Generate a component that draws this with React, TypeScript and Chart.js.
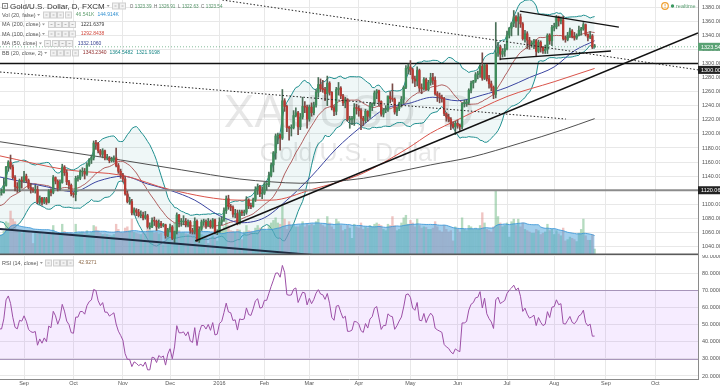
import React, { useEffect, useRef } from "react";
import { Chart, registerables } from "chart.js";
Chart.register(...registerables);

const FONT = '"Liberation Sans", Arial, Helvetica, sans-serif';

// ---- daily candles [open, high, low, close]; first bar = index -11 (Aug 17 2015), Sep 1 2015 = index 0
const aug15 = [[1113,1120,1110,1117],[1117,1122,1113,1117],[1117,1137,1116,1127],[1127,1154,1126,1153],[1153,1162,1147,1160],[1160,1170,1150,1153],[1153,1156,1136,1138],[1138,1141,1119,1125],[1125,1131,1117,1123],[1123,1136,1118,1134],[1134,1139,1123,1133]];
const sep15 = [[1133,1147,1131,1140],[1140,1143,1131,1134],[1134,1136,1122,1124],[1124,1130,1116,1121],[1121,1124,1117,1120],[1120,1127,1116,1121],[1121,1126,1101,1103],[1103,1112,1100,1109],[1109,1110,1099,1103],[1103,1110,1101,1108],[1108,1110,1100,1103],[1103,1121,1102,1119],[1119,1122,1112,1117],[1117,1141,1115,1138],[1138,1139,1129,1133],[1133,1135,1119,1123],[1123,1135,1120,1131],[1131,1157,1130,1153],[1153,1155,1141,1145],[1145,1149,1128,1132],[1132,1134,1122,1127],[1127,1129,1112,1115]];
const oct15 = [[1115,1117,1110,1114],[1114,1140,1105,1137],[1137,1141,1133,1137],[1137,1149,1135,1146],[1146,1152,1140,1146],[1146,1151,1136,1143],[1143,1159,1141,1156],[1156,1165,1154,1163],[1163,1170,1158,1166],[1166,1190,1163,1187],[1187,1191,1178,1186],[1186,1188,1173,1176],[1176,1178,1168,1171],[1171,1179,1166,1176],[1176,1177,1163,1166],[1166,1171,1163,1166],[1166,1168,1159,1162],[1162,1167,1160,1164],[1164,1169,1160,1166],[1166,1180,1153,1155],[1155,1158,1144,1147],[1147,1150,1137,1142]];
const nov15 = [[1142,1144,1132,1136],[1136,1139,1113,1115],[1115,1119,1102,1104],[1104,1110,1100,1104],[1104,1107,1085,1088],[1088,1095,1085,1092],[1092,1094,1084,1089],[1089,1093,1082,1084],[1084,1091,1081,1085],[1085,1089,1078,1081],[1081,1090,1079,1084],[1084,1086,1066,1068],[1068,1074,1065,1068],[1068,1081,1067,1077],[1077,1082,1070,1076],[1076,1078,1063,1068],[1068,1078,1066,1073],[1073,1076,1067,1070],[1070,1073,1068,1071],[1071,1072,1052,1056],[1056,1066,1054,1064]];
const dec15 = [[1064,1072,1061,1068],[1068,1070,1050,1052],[1052,1062,1046,1062],[1062,1088,1058,1085],[1085,1086,1068,1075],[1075,1080,1069,1075],[1075,1084,1071,1076],[1076,1080,1068,1071],[1071,1078,1068,1075],[1075,1077,1059,1063],[1063,1066,1058,1061],[1061,1081,1058,1076],[1076,1078,1047,1049],[1049,1068,1046,1065],[1065,1078,1063,1075],[1075,1079,1070,1075],[1075,1078,1066,1070],[1070,1080,1069,1076],[1076,1078,1066,1068],[1068,1080,1066,1078],[1078,1079,1058,1060],[1060,1064,1057,1061]];
const jan16 = [[1061,1081,1060,1075],[1075,1082,1071,1078],[1078,1095,1076,1091],[1091,1112,1087,1108],[1108,1113,1093,1097],[1097,1100,1091,1096],[1096,1098,1082,1086],[1086,1093,1081,1087],[1087,1092,1071,1073],[1073,1092,1072,1089],[1089,1092,1084,1088],[1088,1092,1084,1089],[1089,1111,1086,1106],[1106,1108,1094,1098],[1098,1102,1094,1097],[1097,1109,1096,1107],[1107,1125,1104,1121],[1121,1129,1114,1125],[1125,1127,1111,1115],[1115,1125,1108,1116]];
const feb16 = [[1116,1131,1114,1128],[1128,1131,1120,1128],[1128,1146,1125,1141],[1141,1159,1139,1156],[1156,1175,1146,1173],[1173,1200,1164,1197],[1197,1201,1186,1198],[1198,1200,1177,1194],[1194,1263,1192,1247],[1247,1250,1232,1239],[1239,1241,1203,1209],[1209,1211,1191,1208],[1208,1213,1197,1209],[1209,1233,1207,1226],[1226,1237,1224,1230],[1230,1232,1199,1210],[1210,1229,1206,1224],[1224,1252,1221,1239],[1239,1246,1230,1238],[1238,1241,1208,1221],[1221,1241,1218,1238]];
const mar16 = [[1238,1244,1225,1230],[1230,1245,1227,1241],[1241,1263,1238,1259],[1259,1280,1252,1270],[1270,1278,1260,1264],[1264,1276,1259,1263],[1263,1266,1247,1257],[1257,1282,1240,1272],[1272,1274,1255,1259],[1259,1260,1234,1237],[1237,1240,1226,1232],[1232,1266,1227,1263],[1263,1273,1255,1265],[1265,1267,1250,1254],[1254,1256,1240,1244],[1244,1252,1237,1248],[1248,1250,1218,1220],[1220,1225,1208,1220],[1220,1225,1213,1222],[1222,1243,1212,1237],[1237,1242,1228,1236],[1236,1240,1225,1233]];
const apr16 = [[1233,1236,1206,1222],[1222,1225,1212,1219],[1219,1235,1216,1232],[1232,1233,1218,1225],[1225,1244,1222,1239],[1239,1244,1233,1243],[1243,1261,1240,1258],[1258,1263,1250,1261],[1261,1262,1240,1246],[1246,1247,1225,1228],[1228,1236,1224,1234],[1234,1240,1230,1234],[1234,1254,1232,1253],[1253,1260,1244,1250],[1250,1271,1246,1249],[1249,1251,1228,1231],[1231,1238,1226,1236],[1236,1245,1233,1243],[1243,1253,1238,1249],[1249,1268,1243,1266],[1266,1297,1264,1293]];
const may16 = [[1293,1299,1285,1295],[1295,1304,1284,1291],[1291,1293,1272,1278],[1278,1282,1267,1275],[1275,1295,1268,1290],[1290,1292,1260,1265],[1265,1271,1257,1264],[1264,1280,1262,1277],[1277,1279,1262,1263],[1263,1276,1261,1273],[1273,1286,1269,1280],[1280,1286,1270,1276],[1276,1281,1255,1257],[1257,1260,1246,1254],[1254,1258,1244,1252],[1252,1255,1245,1250],[1250,1252,1226,1229],[1229,1230,1218,1224],[1224,1228,1217,1221],[1221,1223,1206,1214],[1214,1217,1208,1210],[1210,1218,1199,1215]];
const jun16 = [[1215,1220,1208,1212],[1212,1214,1205,1210],[1210,1244,1207,1243],[1243,1248,1238,1243],[1243,1248,1239,1245],[1245,1264,1242,1262],[1262,1275,1258,1272],[1272,1276,1265,1275],[1275,1287,1273,1284],[1284,1289,1278,1285],[1285,1298,1280,1296],[1296,1315,1276,1279],[1279,1299,1277,1298],[1298,1299,1275,1278],[1278,1283,1265,1271],[1271,1275,1261,1266],[1266,1268,1250,1256],[1256,1358,1251,1315],[1315,1330,1310,1323],[1323,1326,1305,1313],[1313,1321,1309,1317],[1317,1327,1310,1321]];
const jul16 = [[1321,1346,1319,1340],[1340,1351,1336,1350],[1350,1358,1339,1357],[1357,1375,1352,1366],[1366,1368,1351,1360],[1360,1372,1340,1366],[1366,1370,1351,1356],[1356,1358,1333,1335],[1335,1347,1330,1342],[1342,1345,1321,1333],[1333,1337,1320,1327],[1327,1332,1323,1329],[1329,1334,1321,1332],[1332,1334,1311,1317],[1317,1333,1315,1330],[1330,1332,1316,1323],[1323,1324,1314,1318],[1318,1326,1314,1320],[1320,1342,1314,1340],[1340,1342,1327,1332],[1332,1354,1325,1351]];
const aug16 = [[1351,1357,1346,1352],[1352,1368,1349,1366],[1366,1367,1353,1360],[1360,1366,1356,1362],[1362,1367,1333,1335],[1335,1339,1330,1334],[1334,1344,1332,1340],[1340,1350,1337,1346],[1346,1348,1336,1338],[1338,1344,1333,1336],[1336,1342,1334,1340],[1340,1353,1339,1347],[1347,1351,1340,1349],[1349,1358,1347,1355],[1355,1356,1339,1341],[1341,1342,1332,1337],[1337,1345,1335,1339],[1339,1341,1321,1323.39],[1323.39,1326.91,1322.63,1323.54]];

// ---- daily volume (thousands)
const volAug15 = [150,160,185,260,250,343,280,260,200,180,170];
const volSep15 = [190,180,185,170,90,170,180,175,165,160,165,175,170,230,170,160,165,240,185,170,165,175];
const volOct15 = [165,240,170,175,180,170,190,165,175,230,220,190,170,160,165,160,155,150,160,240,200,175];
const volNov15 = [170,210,220,190,280,175,170,165,160,170,165,200,190,185,170,175,165,170,80,190,165];
const volDec15 = [170,180,250,270,190,170,175,165,160,170,165,230,260,200,160,150,150,90,130,150,140,110];
const volJan16 = [180,190,220,280,230,190,185,180,200,195,120,180,230,190,185,175,210,230,210,205];
const volFeb16 = [200,190,230,250,270,290,250,240,390,280,200,260,230,240,220,220,230,260,220,240,230];
const volMar16 = [240,230,260,280,240,230,220,300,250,220,200,280,260,230,190,200,230,210,130,240,220,210];
const volApr16 = [250,200,220,210,230,220,240,250,240,230,200,190,240,230,300,230,190,200,250,290,310];
const volMay16 = [240,270,250,220,280,230,210,220,215,200,200,210,260,220,190,180,230,200,180,190,110,220];
const volJun16 = [200,180,290,200,190,230,220,200,210,200,230,330,250,200,190,180,220,500,300,250,220,230];
const volJul16 = [250,140,260,280,230,280,220,250,200,190,180,170,170,200,190,160,170,180,240,190,200];
const volAug16 = [160,190,165,150,210,110,120,140,130,120,105,170,200,280,150,115,115,160,46.541];

// closes before the first visible bar (needed by BB(20) and RSI(14))
const warmupCloses = [1131,1106,1103,1091,1093,1085,1097,1096,1095,1088,1095,1086,1086,1085,1090,1094,1104,1108,1123,1115,1113];
const FIRST_INDEX = -11;

// ---- moving averages (bar index -> price)
const ma200Idx = [-11,16,43,70,96,110,123,136,151,166,181,199,221,240,254];
const ma200Val = [1189,1176,1163,1149,1136,1132,1130,1132,1137,1146,1156,1167,1187,1206,1221.64];
const ma100Idx = [-11,19,44,65,96,110,128,150,171,181,193,215,236,254];
const ma100Val = [1169,1149,1141,1121,1106,1106,1121,1143,1180,1201,1220,1253,1274,1292.84];
const ma50Idx = [-11,10,22,33,44,55,65,76,87,97,107,117,128,139,150,161,171,182,193,204,215,225,236,245,254];
const ma50Val = [1139,1125,1118,1133,1140,1129,1120,1106,1084,1074,1081,1106,1140,1179,1210,1236,1243,1252,1247,1255,1266,1280,1295,1318,1332.11];

// ---- drawings (bar index, price)
const trendUp = [[76.2,1048.1],[300,1343.1]];
const trendDown = [[-10.7,1065.1],[130,1027.9]];
const dottedA = [[-10.7,1287.8],[241.2,1221.1]];
const dottedB = [[88.3,1389.9],[300.5,1290.6]];
const triUpper = [[220.7,1374.3],[264.8,1351.6]];
const triLower = [[211.8,1306.2],[261.3,1317.6]];
const hLevels = [1300, 1120.06];
const lastPrice = 1323.54;

// ---- axes
const monthTickIdx = [0,22,44,65,87,107,127,149,172,193,215,236,259,281];
const monthLabels = ["Sep","Oct","Nov","Dec","2016","Feb","Mar","Apr","May","Jun","Jul","Aug","Sep","Oct"];
const priceTicks = [1040,1060,1080,1100,1120,1140,1160,1180,1200,1220,1240,1260,1280,1300,1320,1340,1360,1380];
const rsiTicks = [20,30,40,50,60,70,80,90];
const rsiBand = [30, 70];
const X_MIN = -10.7, X_MAX = 300.02;
const Y_MIN = 1028.2, Y_MAX = 1389.93;
const RSI_MIN = 18.25, RSI_MAX = 90.58;
const VOL_MAX = 1990;

// ---- legend texts
const headerTitle = "Gold/U.S. Dollar, D, FXCM";
const ohlcText = [["O","1323.39"],["H","1326.91"],["L","1322.63"],["C","1323.54"]];
const legendRows = [
  { name: "Vol (20, false)", values: [["46.541K", "#5f9e6e"], ["144.914K", "#2f8fd0"]] },
  { name: "MA (200, close)", values: [["1221.6379", "#3a3a3a"]] },
  { name: "MA (100, close)", values: [["1292.8438", "#d24a3f"]] },
  { name: "MA (50, close)", values: [["1332.1060", "#34408f"]] },
  { name: "BB (20, close, 2)", values: [["1343.2340", "#8f2a2a"], ["1364.5482", "#168585"], ["1321.9198", "#168585"]] },
];
const rsiLegend = { name: "RSI (14, close)", value: "42.9271" };
const watermarkSymbol = "XAUUSD, D";
const watermarkDesc = "Gold/U.S. Dollar";

const GRID = "#e8e8e8";

const candles: number[][] = [...aug15, ...sep15, ...oct15, ...nov15, ...dec15, ...jan16, ...feb16, ...mar16, ...apr16, ...may16, ...jun16, ...jul16, ...aug16];
const volumes: number[] = [...volAug15, ...volSep15, ...volOct15, ...volNov15, ...volDec15, ...volJan16, ...volFeb16, ...volMar16, ...volApr16, ...volMay16, ...volJun16, ...volJul16, ...volAug16];

function buildSeries() {
  const xs = candles.map((_, k) => FIRST_INDEX + k);
  const up = candles.map((c) => c[3] >= c[0]);
  const bodies = candles.map((c, k) => ({ x: xs[k], y: [c[0], c[3]] }));
  const wicks = candles.map((c, k) => ({ x: xs[k], y: [c[2], c[1]] }));
  const vols = volumes.map((v, k) => ({ x: xs[k], y: v }));
  const volMA = volumes.map((_, k) => {
    const s = Math.max(0, k - 19);
    const w = volumes.slice(s, k + 1);
    return { x: xs[k], y: w.reduce((a, b) => a + b, 0) / w.length };
  });
  const closesAll = warmupCloses.concat(candles.map((c) => c[3]));
  const W = warmupCloses.length;
  const bbU: any[] = [], bbL: any[] = [], bbM: any[] = [];
  candles.forEach((_, k) => {
    const g = W + k;
    const win = closesAll.slice(g - 19, g + 1);
    const m = win.reduce((a, b) => a + b, 0) / win.length;
    const sd = Math.sqrt(win.reduce((a, b) => a + (b - m) * (b - m), 0) / win.length);
    bbU.push({ x: xs[k], y: m + 2 * sd });
    bbL.push({ x: xs[k], y: m - 2 * sd });
    bbM.push({ x: xs[k], y: m });
  });
  const rsi: any[] = [];
  let ag = 0, al = 0;
  for (let i = 1; i < closesAll.length; i++) {
    const d = closesAll[i] - closesAll[i - 1];
    const g = Math.max(d, 0), l = Math.max(-d, 0);
    if (i <= 14) { ag += g / 14; al += l / 14; }
    else { ag = (ag * 13 + g) / 14; al = (al * 13 + l) / 14; }
    if (i >= W) rsi.push({ x: FIRST_INDEX + (i - W), y: al === 0 ? 100 : 100 - 100 / (1 + ag / al) });
  }
  return { xs, up, bodies, wicks, vols, volMA, bbU, bbL, bbM, rsi };
}

const pts = (idx: number[], val: number[]) => idx.map((x, i) => ({ x, y: val[i] }));
const seg = (p: number[][]) => p.map((q) => ({ x: q[0], y: q[1] }));

function lineDs(data: any[], color: string, width: number, order: number, extra: any = {}) {
  return { type: "line", data, borderColor: color, borderWidth: width, pointRadius: 0, fill: false, tension: 0, order, ...extra };
}

function xScale(showLabels: boolean) {
  return {
    type: "linear", min: X_MIN, max: X_MAX, offset: false,
    afterBuildTicks: (s: any) => { s.ticks = monthTickIdx.map((v) => ({ value: v })); },
    grid: { color: GRID, drawTicks: false, offset: false, lineWidth: 1 },
    border: { display: showLabels, color: "#8a8a8a" },
    ticks: {
      display: showLabels, autoSkip: false, maxRotation: 0, padding: 1.5, color: "#555",
      font: { size: 5.5, family: FONT }, callback: (_v: any, i: number) => monthLabels[i],
    },
    afterFit: (s: any) => { s.height = showLabels ? 8 : 0; s.paddingLeft = 0; s.paddingRight = 0; },
  };
}

function yAfterFit(s: any) { s.width = 22; s.paddingTop = 0; s.paddingBottom = 0; }

function drawBoxes(ctx: CanvasRenderingContext2D, x: number, y: number, n: number) {
  for (let i = 0; i < n; i++) {
    const bx = Math.round(x + i * 7.3) + 0.5;
    ctx.fillStyle = "#f2f2f2";
    ctx.fillRect(bx, y - 3, 6, 6);
    ctx.strokeStyle = "#cfcfcf";
    ctx.lineWidth = 1;
    ctx.strokeRect(bx, y - 3, 6, 6);
    ctx.fillStyle = "#b8b8b8";
    ctx.fillRect(bx + 2, y - 0.5, 2, 1);
  }
}
function drawCaret(ctx: CanvasRenderingContext2D, x: number, y: number) {
  ctx.fillStyle = "#999";
  ctx.beginPath();
  ctx.moveTo(x, y - 1); ctx.lineTo(x + 3, y - 1); ctx.lineTo(x + 1.5, y + 1); ctx.closePath(); ctx.fill();
}
function labelBox(ctx: CanvasRenderingContext2D, y: number, text: string, bg: string) {
  ctx.fillStyle = bg;
  ctx.fillRect(698, y - 4, 22, 8);
  ctx.fillStyle = "#fff";
  ctx.font = `5.5px ${FONT}`;
  ctx.textAlign = "left";
  ctx.textBaseline = "middle";
  ctx.fillText(text, 701, y + 0.3);
}
// draws a legend row: name, caret, icon boxes, then values one after another
function legendRow(ctx: CanvasRenderingContext2D, y: number, name: string, values: string[][]) {
  ctx.textAlign = "left"; ctx.textBaseline = "middle";
  ctx.font = `5.5px ${FONT}`;
  ctx.fillStyle = "#555";
  ctx.fillText(name, 2, y);
  let x = 2 + ctx.measureText(name).width + 1.5;
  drawCaret(ctx, x, y);
  x += 5.5;
  drawBoxes(ctx, x, y, 4);
  x += 4 * 7.3 + 4;
  ctx.font = `5px ${FONT}`;
  values.forEach((v) => {
    ctx.fillStyle = v[1];
    ctx.fillText(v[0], x, y);
    x += ctx.measureText(v[0]).width + 3;
  });
}

export default function App() {
  const mainRef = useRef<HTMLCanvasElement>(null);
  const rsiRef = useRef<HTMLCanvasElement>(null);

  useEffect(() => {
    document.body.style.margin = "0";
    const S = buildSeries();
    const upCol = "#3f8c5b", dnCol = "#b83a33";

    const watermark = {
      id: "watermark",
      beforeDatasetsDraw(chart: any) {
        const ctx = chart.ctx;
        ctx.save();
        ctx.fillStyle = "rgba(110,110,110,0.17)";
        ctx.textAlign = "center";
        ctx.textBaseline = "alphabetic";
        ctx.font = `46px ${FONT}`;
        ctx.fillText(watermarkSymbol, 349, 127);
        ctx.font = `25px ${FONT}`;
        ctx.fillText(watermarkDesc, 350, 161);
        ctx.restore();
      },
    };

    const overlay = {
      id: "overlay",
      afterDraw(chart: any) {
        const ctx: CanvasRenderingContext2D = chart.ctx;
        const y = chart.scales.y;
        ctx.save();
        // pane separator
        ctx.strokeStyle = "#5a5a5a";
        ctx.lineWidth = 1.5;
        ctx.beginPath(); ctx.moveTo(0, 254.3); ctx.lineTo(698, 254.3); ctx.stroke();
        // header
        ctx.strokeStyle = "#888"; ctx.lineWidth = 1;
        ctx.strokeRect(2.5, 3.5, 5, 5);
        ctx.beginPath(); ctx.moveTo(4, 6); ctx.lineTo(6, 6); ctx.stroke();
        ctx.textAlign = "left"; ctx.textBaseline = "middle";
        ctx.fillStyle = "#333";
        ctx.font = `8px ${FONT}`;
        ctx.fillText(headerTitle, 10, 6.5);
        let hx = 10 + ctx.measureText(headerTitle).width + 2;
        drawCaret(ctx, hx, 6);
        hx += 5.5;
        drawBoxes(ctx, hx, 6, 2);
        hx += 2 * 7.3 + 3;
        ctx.font = `4.6px ${FONT}`;
        ohlcText.forEach((p) => {
          ctx.fillStyle = "#666"; ctx.fillText(p[0], hx, 6.5);
          hx += ctx.measureText(p[0]).width + 1.5;
          ctx.fillStyle = "#4f8f62"; ctx.fillText(p[1], hx, 6.5);
          hx += ctx.measureText(p[1]).width + 2.5;
        });
        // indicator rows
        const rowY = [15, 24.5, 34, 43.5, 53];
        legendRows.forEach((r, i) => legendRow(ctx, rowY[i], r.name, r.values as string[][]));
        // realtime
        ctx.strokeStyle = "#f0a030"; ctx.lineWidth = 1.2;
        ctx.beginPath(); ctx.arc(665, 6, 3.3, 0, Math.PI * 2); ctx.stroke();
        ctx.fillStyle = "#f0a030"; ctx.fillRect(664.6, 4, 0.9, 2.4); ctx.fillRect(664.6, 7.2, 0.9, 0.9);
        ctx.fillStyle = "#3c9a62";
        ctx.beginPath(); ctx.arc(672.5, 6, 1.7, 0, Math.PI * 2); ctx.fill();
        ctx.fillStyle = "#5a9e72";
        ctx.font = `5.5px ${FONT}`;
        ctx.fillText("realtime", 676, 6.5);
        // price labels
        labelBox(ctx, y.getPixelForValue(lastPrice), lastPrice.toFixed(2), "#5aa274");
        labelBox(ctx, y.getPixelForValue(hLevels[0]) + 6.5, hLevels[0].toFixed(2), "#222");
        labelBox(ctx, y.getPixelForValue(hLevels[1]), hLevels[1].toFixed(2), "#222");
        ctx.restore();
      },
    };

    const fullX = [X_MIN, X_MAX];
    const main = new Chart(mainRef.current as HTMLCanvasElement, {
      type: "line",
      data: {
        datasets: [
          lineDs(S.bbU, "#1f8f8f", 1, 100, { fill: { target: "+1" }, backgroundColor: "rgba(25,140,140,0.07)" }),
          lineDs(S.bbL, "#1f8f8f", 1, 99),
          {
            type: "bar", data: S.vols, yAxisID: "yVol", grouped: false, barThickness: 1.7, order: 90,
            backgroundColor: S.up.map((u) => (u ? "rgba(120,190,140,0.55)" : "rgba(225,140,135,0.5)")),
          },
          lineDs(S.volMA, "rgba(60,150,215,0.85)", 1, 85, { yAxisID: "yVol", fill: "origin", backgroundColor: "rgba(70,160,220,0.5)" }),
          lineDs(pts(ma200Idx, ma200Val), "#505050", 1, 70, { cubicInterpolationMode: "monotone" }),
          lineDs(pts(ma100Idx, ma100Val), "#d9534a", 1, 70, { cubicInterpolationMode: "monotone" }),
          lineDs(pts(ma50Idx, ma50Val), "#3a44a0", 1, 70, { cubicInterpolationMode: "monotone" }),
          lineDs(S.bbM, "#a03a3a", 0.8, 70),
          lineDs([{ x: fullX[0], y: hLevels[0] }, { x: fullX[1], y: hLevels[0] }], "#111", 1.5, 60),
          lineDs([{ x: fullX[0], y: hLevels[1] }, { x: fullX[1], y: hLevels[1] }], "#8c8c8c", 2, 60),
          lineDs([{ x: fullX[0], y: lastPrice }, { x: fullX[1], y: lastPrice }], "rgba(80,160,110,0.7)", 1, 60, { borderDash: [1, 2] }),
          {
            type: "bar", data: S.wicks, grouped: false, barThickness: 1, order: 50,
            backgroundColor: S.up.map((u) => (u ? "#4a6f58" : "#7a4b47")),
          },
          {
            type: "bar", data: S.bodies, grouped: false, barThickness: 1.7, minBarLength: 1, order: 40,
            backgroundColor: S.up.map((u) => (u ? upCol : dnCol)),
          },
          lineDs(seg(trendUp), "#111", 1.5, 30),
          lineDs(seg(trendDown), "#1e2c42", 2, 30),
          lineDs(seg(dottedA), "#222", 1, 30, { borderDash: [1.5, 2] }),
          lineDs(seg(dottedB), "#222", 1, 30, { borderDash: [1.5, 2] }),
          lineDs(seg(triUpper), "#111", 1.3, 30),
          lineDs(seg(triLower), "#111", 1.3, 30),
        ] as any,
      },
      options: {
        responsive: false, animation: false, devicePixelRatio: 1, events: [],
        layout: { padding: 0 },
        plugins: { legend: { display: false }, tooltip: { enabled: false }, filler: { propagate: false } },
        scales: {
          x: xScale(false) as any,
          y: {
            type: "linear", position: "right", min: Y_MIN, max: Y_MAX,
            afterBuildTicks: (s: any) => { s.ticks = priceTicks.map((v) => ({ value: v })); },
            grid: { color: GRID, drawTicks: false },
            border: { display: true, color: "#8a8a8a" },
            ticks: { padding: 4, color: "#555", autoSkip: false, font: { size: 5.5, family: FONT }, callback: (v: any) => Number(v).toFixed(2) },
            afterFit: yAfterFit,
          } as any,
          yVol: { type: "linear", display: false, min: 0, max: VOL_MAX } as any,
        },
      },
      plugins: [watermark, overlay],
    });

    const rsiPlugin = {
      id: "rsiBand",
      beforeDatasetsDraw(chart: any) {
        const ctx = chart.ctx, a = chart.chartArea, y = chart.scales.y;
        const y70 = y.getPixelForValue(rsiBand[1]), y30 = y.getPixelForValue(rsiBand[0]);
        ctx.save();
        ctx.fillStyle = "rgba(153,40,255,0.09)";
        ctx.fillRect(a.left, y70, a.right - a.left, y30 - y70);
        ctx.strokeStyle = "rgba(160,140,180,0.9)";
        ctx.lineWidth = 1;
        [y70, y30].forEach((py: number) => {
          ctx.beginPath(); ctx.moveTo(a.left, Math.round(py) + 0.5); ctx.lineTo(a.right, Math.round(py) + 0.5); ctx.stroke();
        });
        ctx.restore();
      },
      afterDraw(chart: any) {
        const ctx: CanvasRenderingContext2D = chart.ctx;
        ctx.save();
        legendRow(ctx, 8, rsiLegend.name, [[rsiLegend.value, "#8d6a4a"]]);
        ctx.restore();
      },
    };

    const rsiChart = new Chart(rsiRef.current as HTMLCanvasElement, {
      type: "line",
      data: { datasets: [lineDs(S.rsi, "#9c4fa6", 1, 10)] as any },
      options: {
        responsive: false, animation: false, devicePixelRatio: 1, events: [],
        layout: { padding: 0 },
        plugins: { legend: { display: false }, tooltip: { enabled: false } },
        scales: {
          x: xScale(true) as any,
          y: {
            type: "linear", position: "right", min: RSI_MIN, max: RSI_MAX,
            afterBuildTicks: (s: any) => { s.ticks = rsiTicks.map((v) => ({ value: v })); },
            grid: { color: GRID, drawTicks: false },
            border: { display: true, color: "#8a8a8a" },
            ticks: { padding: 4, color: "#555", autoSkip: false, font: { size: 5.5, family: FONT }, callback: (v: any) => Number(v).toFixed(4) },
            afterFit: yAfterFit,
          } as any,
        },
      },
      plugins: [rsiPlugin],
    });

    return () => { main.destroy(); rsiChart.destroy(); };
  }, []);

  return (
    <div style={{ position: "fixed", left: 0, top: 0, width: 720, height: 387, background: "#fff", overflow: "hidden" }}>
      <canvas ref={mainRef} width={720} height={255} style={{ position: "absolute", left: 0, top: 0, width: 720, height: 255 }} />
      <canvas ref={rsiRef} width={720} height={132} style={{ position: "absolute", left: 0, top: 255, width: 720, height: 132 }} />
    </div>
  );
}
